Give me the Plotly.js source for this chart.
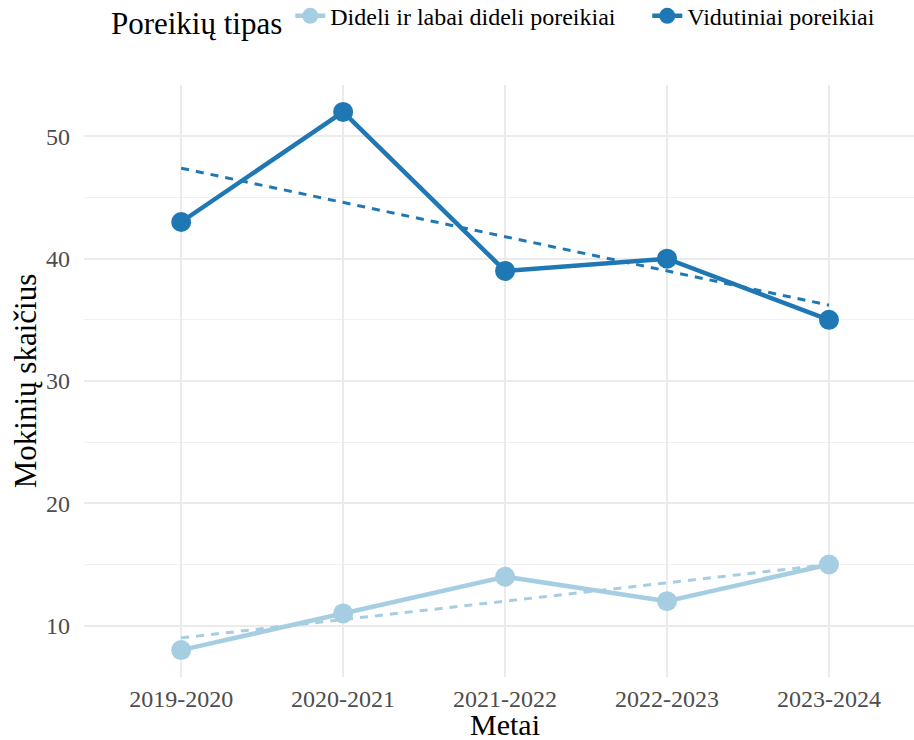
<!DOCTYPE html>
<html>
<head>
<meta charset="utf-8">
<script src="https://cdn.plot.ly/plotly-3.0.1.min.js"></script>
<style>html,body{margin:0;padding:0;background:#fff;}#chart{width:914px;height:740px;}</style>
</head>
<body>
<div id="chart"></div>
<script>
const years = ['2019-2020', '2020-2021', '2021-2022', '2022-2023', '2023-2024'];
const dideli = [8, 11, 14, 12, 15];
const vidutiniai = [43, 52, 39, 40, 35];
// dashed trend lines: endpoints
const trendYears = ['2019-2020', '2023-2024'];
const trendDideli = [9.0, 15.0];
const trendVidutiniai = [47.4, 36.2];
const seriesNames = ['Dideli ir labai dideli poreikiai', 'Vidutiniai poreikiai'];
const xTitle = 'Metai';
const yTitle = 'Mokinių skaičius';
const legendTitle = 'Poreikių tipas';
const colLight = '#a6cee3';
const colDark = '#1f78b4';
const serif = 'Liberation Serif, Times New Roman, serif';

const traces = [
  {x: trendYears, y: trendDideli, mode: 'lines', line: {color: colLight, width: 3, dash: '8px,7px'}, showlegend: false, hoverinfo: 'skip'},
  {x: trendYears, y: trendVidutiniai, mode: 'lines', line: {color: colDark, width: 3, dash: '8px,7px'}, showlegend: false, hoverinfo: 'skip'},
  {x: years, y: dideli, name: seriesNames[0], mode: 'lines+markers', line: {color: colLight, width: 4.5}, marker: {color: colLight, size: 20}, legendwidth: 312},
  {x: years, y: vidutiniai, name: seriesNames[1], mode: 'lines+markers', line: {color: colDark, width: 4.5}, marker: {color: colDark, size: 20}, legendwidth: 195}
];

const layout = {
  width: 914, height: 740,
  margin: {l: 84, r: 0, t: 85, b: 63},
  paper_bgcolor: '#fff', plot_bgcolor: '#fff',
  font: {family: serif, color: '#000'},
  showlegend: true,
  legend: {
    orientation: 'h', x: 0.03, xanchor: 'left', yref: 'container', y: 0.974, yanchor: 'middle',
    title: {text: legendTitle, font: {size: 31, color: '#000'}, side: 'left'},
    font: {size: 24, color: '#000'}, itemwidth: 30
  },
  xaxis: {
    type: 'category', categoryorder: 'array', categoryarray: years,
    range: [-0.6, 4.525], showgrid: true, gridcolor: '#ebebeb', gridwidth: 2,
    zeroline: false, showline: false, ticks: '', ticklabelstandoff: 5,
    tickfont: {size: 24, color: '#4d4d4d'}
  },
  yaxis: {
    range: [5.8, 54.2], tickvals: [10, 20, 30, 40, 50], showgrid: true, gridcolor: '#ebebeb', gridwidth: 2,
    minor: {dtick: 5, tick0: 0, showgrid: true, gridcolor: '#f0f0f0', gridwidth: 1, ticks: ''},
    zeroline: false, showline: false, ticks: '', ticklabelstandoff: 13,
    tickfont: {size: 24, color: '#4d4d4d'},
    title: {text: yTitle, font: {size: 31, color: '#000'}, standoff: 0}
  },
  annotations: [{
    text: xTitle, xref: 'x', x: 2, yref: 'paper', y: -0.081, yanchor: 'middle', xanchor: 'center',
    showarrow: false, font: {size: 30, color: '#000'}
  }]
};
Plotly.newPlot('chart', traces, layout, {displayModeBar: false, staticPlot: true});
</script>
</body>
</html>
